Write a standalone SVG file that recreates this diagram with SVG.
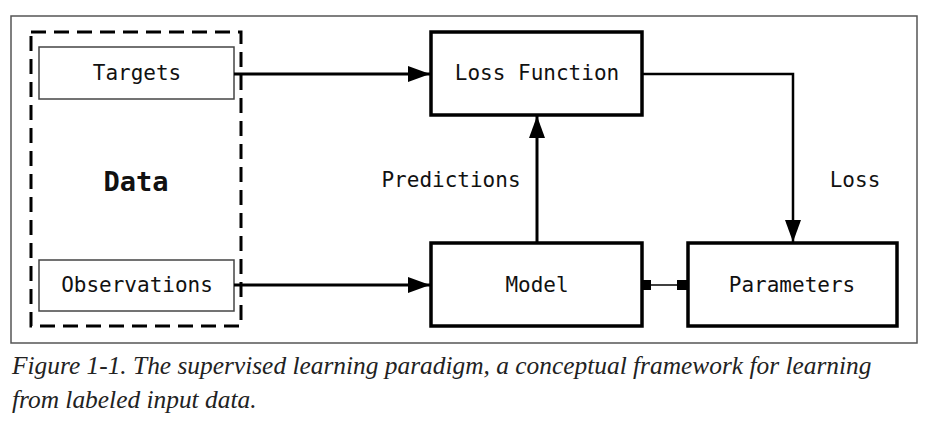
<svg xmlns="http://www.w3.org/2000/svg" width="931" height="435" viewBox="0 0 931 435">
<style>
.mono{font-family:"DejaVu Sans Mono","Liberation Mono",monospace;font-size:21px;fill:#111}
.thick{fill:#fff;stroke:#000;stroke-width:3.5}
.thin{fill:#fff;stroke:#444;stroke-width:1.5}
.line{fill:none;stroke:#000;stroke-width:3}
.cap{font-family:"Liberation Serif",serif;font-style:italic;font-size:25.4px;fill:#222}
</style>
<defs>
<marker id="ah" markerWidth="22" markerHeight="16" refX="22" refY="8" orient="auto" markerUnits="userSpaceOnUse">
<path d="M0,0 L22,8 L0,16 Z" fill="#000"/>
</marker>
</defs>
<rect width="931" height="435" fill="#fff"/>
<rect x="11" y="16" width="906" height="327" fill="none" stroke="#555" stroke-width="1.5"/>
<g id="data">
<rect x="31" y="32" width="210" height="294" fill="none" stroke="#000" stroke-width="3" stroke-dasharray="15,8"/>
<text x="136" y="191" text-anchor="middle" font-family="DejaVu Sans Mono,monospace" font-weight="bold" font-size="27" fill="#111">Data</text>
</g>
<g id="targets">
<rect class="thin" x="39" y="47" width="195" height="52"/>
<text class="mono" x="137" y="80" text-anchor="middle">Targets</text>
</g>
<g id="observations">
<rect class="thin" x="39" y="260" width="195" height="51"/>
<text class="mono" x="137" y="292" text-anchor="middle">Observations</text>
</g>
<g id="loss-function">
<rect class="thick" x="431" y="32" width="211" height="83"/>
<text class="mono" x="537" y="80" text-anchor="middle">Loss Function</text>
</g>
<g id="model">
<rect class="thick" x="431" y="243" width="211" height="83"/>
<text class="mono" x="537" y="292" text-anchor="middle">Model</text>
</g>
<g id="parameters">
<rect class="thick" x="688" y="243" width="209" height="83"/>
<text class="mono" x="792" y="292" text-anchor="middle">Parameters</text>
</g>
<g id="connectors">
<line class="line" x1="234" y1="74" x2="430" y2="74" marker-end="url(#ah)"/>
<line class="line" x1="234" y1="285" x2="430" y2="285" marker-end="url(#ah)"/>
<line class="line" x1="537" y1="243" x2="537" y2="116" marker-end="url(#ah)"/>
<polyline points="642,74 793,74 793,242" fill="none" stroke="#000" stroke-width="2.5" marker-end="url(#ah)"/>
<line x1="645" y1="285" x2="685" y2="285" stroke="#000" stroke-width="1.5"/>
<rect x="642" y="280" width="9" height="10" fill="#000"/>
<rect x="677" y="280" width="11" height="10" fill="#000"/>
<text class="mono" x="451" y="187" text-anchor="middle">Predictions</text>
<text class="mono" x="855" y="187" text-anchor="middle">Loss</text>
</g>
<text class="cap" x="12" y="374">Figure 1-1. The supervised learning paradigm, a conceptual framework for learning</text>
<text class="cap" x="12" y="408">from labeled input data.</text>
</svg>
